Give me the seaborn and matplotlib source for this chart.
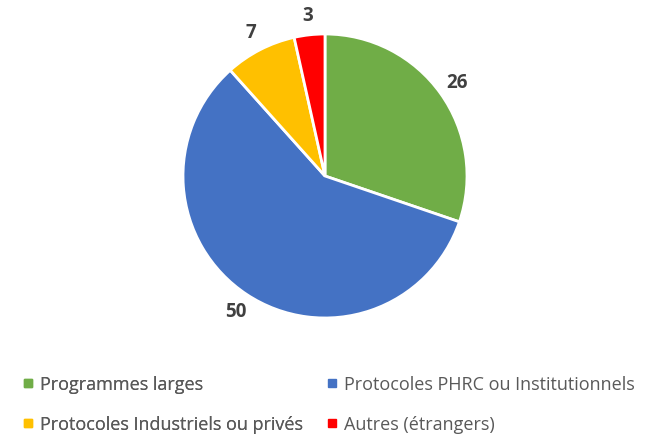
import matplotlib
matplotlib.use("Agg")
import matplotlib.pyplot as plt
from matplotlib.lines import Line2D
import seaborn as sns

categories = ["Programmes larges", "Protocoles PHRC ou Institutionnels",
              "Protocoles Industriels ou privés", "Autres (étrangers)"]
values = [26, 50, 7, 3]
colors = ["#70AD47", "#4472C4", "#FFC000", "#FF0000"]

sns.set_theme(style="white")
plt.rcParams["font.family"] = ["Open Sans", "DejaVu Sans"]

fig = plt.figure(figsize=(6.48, 4.35), dpi=100)
ax = fig.add_axes([183 / 648, 0.2667, 284 / 648, 284 / 435])

wedges, texts = ax.pie(values, labels=[str(v) for v in values], colors=sns.color_palette(colors),
                       startangle=90, counterclock=False, labeldistance=1.14,
                       wedgeprops=dict(edgecolor="white", linewidth=2),
                       textprops=dict(fontsize=13.5, fontweight="bold", color="#404040"))
for t in texts:
    t.set_horizontalalignment("center")
    t.set_verticalalignment("center")
ax.set_xlim(-1, 1)
ax.set_ylim(-1, 1)
ax.set_aspect("equal")

# legende en bas : deux colonnes
handles = [Line2D([0], [0], marker="s", linestyle="", markersize=6,
                  markerfacecolor=c, markeredgecolor=c) for c in colors]
legend_kw = dict(loc="center left", frameon=False, fontsize=13, labelcolor="#595959",
                 handletextpad=0.25, handlelength=0.8, labelspacing=1.2, borderpad=0)
leg1 = fig.legend([handles[0], handles[2]], [categories[0], categories[2]],
                  bbox_to_anchor=(12 / 648, 1 - 405 / 435), **legend_kw)
fig.add_artist(leg1)
leg2 = fig.legend([handles[1], handles[3]], [categories[1], categories[3]],
                  bbox_to_anchor=(316 / 648, 1 - 405 / 435), **legend_kw)

fig.savefig("out.png", dpi=100)
